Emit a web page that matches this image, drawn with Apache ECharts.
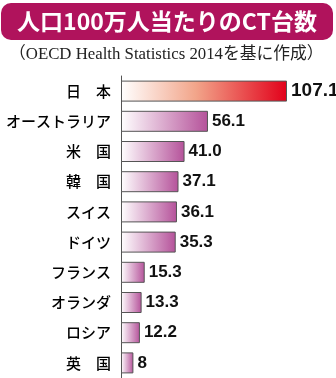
<!DOCTYPE html>
<html>
<head>
<meta charset="utf-8">
<script src="https://cdn.jsdelivr.net/npm/echarts@6/dist/echarts.min.js"></script>
<style>
html,body{margin:0;padding:0;background:#fff;}
#chart{width:336px;height:378px;}
</style>
</head>
<body>
<div id="chart"></div>
<script>
const categories = ['日　本','オーストラリア','米　国','韓　国','スイス','ドイツ','フランス','オランダ','ロシア','英　国'];
const values = [107.1, 56.1, 41.0, 37.1, 36.1, 35.3, 15.3, 13.3, 12.2, 8];
const valueLabels = ['107.1','56.1','41.0','37.1','36.1','35.3','15.3','13.3','12.2','8'];

const chart = echarts.init(document.getElementById('chart'));

const redGrad = new echarts.graphic.LinearGradient(0,0,1,0,[
  {offset:0,color:'#ffffff'},{offset:0.45,color:'#f2a58a'},{offset:1,color:'#e2001a'}]);
const purpleGrad = new echarts.graphic.LinearGradient(0,0,1,0,[
  {offset:0,color:'#ffffff'},{offset:1,color:'#b5529a'}]);

const data = values.map((v,i)=>({
  value: v,
  itemStyle: {color: i===0 ? redGrad : purpleGrad},
  label: i===0 ? {fontSize:19} : undefined
}));

chart.setOption({
  animation:false,
  graphic:[
    {type:'rect', shape:{x:1,y:3,width:332,height:37,r:10}, style:{fill:'#b0135c'}},
    {type:'text', x:167, y:21.5, style:{text:'人口100万人当たりのCT台数', fill:'#fff',
      font:'bold 23px "Noto Sans CJK JP"', align:'center', verticalAlign:'middle'}},
    {type:'text', x:9, y:55, style:{text:'（OECD Health Statistics 2014を基に作成）', fill:'#222',
      font:'16.8px "Liberation Serif", "Noto Sans CJK JP"', align:'left', verticalAlign:'middle'}}
  ],
  grid:{left:121, right:29, top:76, bottom:0, containLabel:false},
  xAxis:{type:'value', min:0, max:120, show:false},
  yAxis:{type:'category', data:categories, inverse:true,
    axisLine:{show:true, lineStyle:{color:'#555', width:1}},
    axisTick:{show:false},
    axisLabel:{color:'#000', fontSize:15, fontWeight:500, fontFamily:'"Noto Sans CJK JP"', margin:10}
  },
  series:[{
    type:'bar', data:data, barWidth:21,
    itemStyle:{borderColor:'#555', borderWidth:1},
    label:{show:true, position:'right', distance:4, color:'#111',
      fontFamily:'"Liberation Sans", Arial', fontWeight:'bold', fontSize:17,
      formatter:(p)=>valueLabels[p.dataIndex]}
  }]
});
</script>
</body>
</html>
